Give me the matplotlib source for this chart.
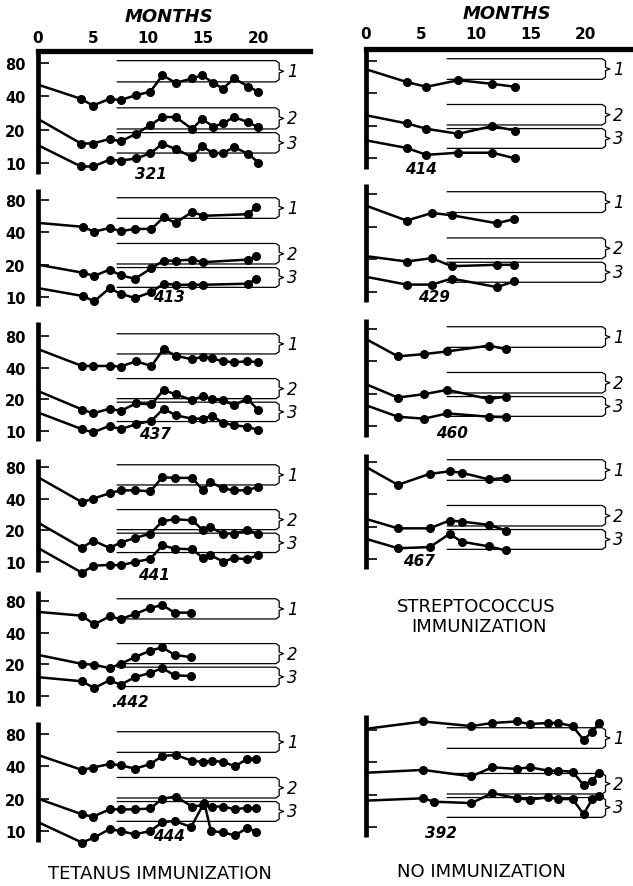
import numpy as np
import matplotlib.pyplot as plt

# months after start, and titres of groups 1, 2, 3 for each animal
m321 = [0, 3.9, 5.0, 6.5, 7.5, 8.9, 10.2, 11.3, 12.5, 14.0, 14.9, 15.9, 16.8, 17.8, 19.1, 20.0]
g1_321 = [51, 38, 33, 38, 37, 41, 44, 62, 53, 58, 62, 53, 47, 58, 49, 44]
g2_321 = [25, 15, 15, 16.5, 15.7, 18.3, 22, 26, 26, 20.3, 25, 21.3, 22.8, 26, 23.3, 21]
g3_321 = [14.5, 9.3, 9.3, 10.7, 10.5, 11, 12.2, 14.9, 13.4, 11.3, 14.1, 12.3, 12.3, 13.9, 12.1, 10.1]

m413 = [0, 4.1, 5.1, 6.5, 7.5, 8.8, 10.3, 11.4, 12.5, 14.0, 15.0, 19.1, 19.8]
g1_413 = [49, 45, 40.5, 44, 41, 43, 43, 55, 49, 62, 57, 59, 69]
g2_413 = [20, 16.8, 15.7, 18, 15.9, 14.8, 18.5, 21.8, 21.8, 22.3, 21.1, 22.3, 24]
g3_413 = [12.1, 10.2, 9.1, 12.1, 10.7, 9.8, 11.1, 13.3, 13, 13, 13, 13.3, 14.8]

m437 = [0, 4.0, 5.0, 6.5, 7.5, 8.9, 10.3, 11.4, 12.5, 14.0, 15.0, 15.8, 16.8, 17.8, 19.0, 20.0]
g1_437 = [60, 41.5, 41.5, 41.5, 41, 46, 41.5, 60, 52, 48, 51, 49, 46, 45, 46, 45]
g2_437 = [24, 16, 14.7, 16.3, 15.5, 18.3, 17.9, 24.5, 22.3, 19.7, 21.5, 20, 19.7, 17.5, 20.3, 15.8]
g3_437 = [15, 10.4, 9.7, 11.2, 10.4, 11.6, 12.5, 16.3, 14.1, 13.1, 13.1, 13.9, 12.0, 11.3, 11.0, 10.2]

m441 = [0, 4.0, 5.0, 6.5, 7.5, 8.8, 10.2, 11.3, 12.4, 14.0, 15.0, 15.6, 16.8, 17.8, 19.0, 20.0]
g1_441 = [64, 37, 40, 45, 48, 48, 47, 64, 63, 63, 48, 58, 50, 48, 48, 52]
g2_441 = [23.7, 13.6, 16, 13.6, 15.3, 16.9, 18.6, 24.4, 25.5, 24.9, 20, 21.5, 18.6, 18.6, 20, 18.6]
g3_441 = [13.6, 7.9, 9.2, 9.4, 9.3, 10, 10.7, 14.4, 13.4, 13.2, 10.9, 11.7, 10.1, 10.9, 10.6, 11.7]

m442 = [0, 4.0, 5.1, 6.5, 7.5, 8.8, 10.2, 11.3, 12.4, 13.9]
g1_442 = [63, 58, 48, 57, 54, 60, 69, 73, 62, 62]
g2_442 = [24.6, 20.2, 19.8, 18.4, 20.2, 23.4, 27, 29, 24.6, 23.4]
g3_442 = [15.1, 13.8, 11.9, 14.1, 12.8, 15.1, 16.6, 18.4, 15.7, 15.5]

m444 = [0, 4.0, 5.0, 6.5, 7.5, 8.8, 10.2, 11.3, 12.5, 14.0, 15.0, 15.8, 16.8, 17.9, 19.0, 19.8]
m444_3 = [0, 4.0, 5.1, 6.5, 7.5, 8.8, 10.2, 11.3, 12.4, 13.9, 15.1, 15.7, 16.8, 17.9, 19.0, 19.8]
g1_444 = [51, 37, 39, 42, 41, 38, 42, 50, 51, 45, 44, 45, 44, 40, 47, 47]
g2_444 = [20, 14.3, 13.6, 15.9, 15.9, 15.9, 16.2, 20, 20.9, 16.9, 17.4, 16.9, 16.9, 15.9, 16.5, 16.2]
g3_444 = [12.1, 7.8, 8.7, 10.4, 10, 9.3, 10, 12.1, 12.4, 10.9, 18.4, 10, 9.7, 9.1, 10.7, 9.8]

m414 = [0, 3.7, 5.5, 8.4, 11.5, 13.6]
g1_414 = [67, 51, 46, 53, 49, 46]
g2_414 = [25, 21, 18.7, 16.8, 19.8, 18]
g3_414 = [14.6, 12.4, 10.7, 11.2, 11.2, 9.9]

m429 = [0, 3.7, 6.0, 7.8, 11.9, 13.5]
g1_429 = [62.5, 45.5, 53.5, 51, 43, 47]
g2_429 = [21.4, 19.1, 20.5, 17.3, 17.8, 17.8]
g3_429 = [13.8, 11.7, 11.7, 13.3, 11.1, 12.5]

m460 = [0, 2.9, 5.3, 7.4, 11.2, 12.7]
g1_460 = [64.5, 44.5, 46.7, 49.5, 56, 52]
g2_460 = [24.5, 18.4, 19.8, 21.7, 17.8, 18.8]
g3_460 = [15.6, 12.2, 11.7, 13.1, 12.2, 12.1]

m467 = [0, 2.9, 5.8, 7.6, 8.7, 11.2, 12.75]
g1_467 = [72, 49, 62, 65.5, 63.6, 55, 57]
g2_467 = [23.6, 19.3, 19.3, 22.8, 22.3, 20.8, 18.4]
g3_467 = [15.4, 12.6, 12.9, 17.1, 14.5, 13.1, 12.0]

m392 = [0, 5.2, 9.6, 11.5, 13.7, 14.9, 16.6, 17.5, 18.8, 19.8, 20.6, 21.2]
m392_3 = [0, 5.2, 6.2, 9.6, 11.5, 13.7, 14.9, 16.6, 17.5, 18.8, 19.8, 20.6, 21.2]
g1_392 = [82, 96, 87, 93, 96, 91, 93, 93, 87, 65, 77, 93]
g2_392 = [32, 34, 29.6, 36, 34.7, 36, 33.4, 33.4, 32.7, 24.6, 27, 32]
g3_392 = [17.6, 18.5, 17.2, 16.7, 20.7, 18.5, 18, 18.9, 18.2, 18.2, 13.2, 18.2, 19.3]

# normal ranges of groups 1, 2, 3 (bracketed bands)
band_low = [54, 20.3, 12.3]
band_high = [84, 31.5, 18.8]
band_names = ['1', '2', '3']

W, H = 633, 887
fig = plt.figure(figsize=(W / 100, H / 100), dpi=100)


def px(x, y):
    return x / W, 1 - y / H


def panel(col, top, y80, y10, bottom, series, label, lab_x, lab_y):
    if col == 0:
        left, width, xmax, x0, x1 = 38, 272, 24.7, 7.2, 21.6
    else:
        left, width, xmax, x0, x1 = 366, 267, 24.3, 7.4, 21.5
    ax = fig.add_axes([left / W, 1 - bottom / H, width / W, (bottom - top) / H])
    ppd = (y10 - y80) / 3
    ax.set_yscale('log')
    ax.set_ylim(10 * 2 ** (-(bottom - y10) / ppd), 80 * 2 ** ((y80 - top) / ppd))
    ax.set_xlim(0, xmax)
    for s in ['right', 'bottom', 'top']:
        ax.spines[s].set_visible(False)
    ax.spines['left'].set_linewidth(3.4)
    ax.spines['left'].set_capstyle('butt')
    labs = ['10', '20', '40', '80'] if col == 0 else [''] * 4
    ax.set_yticks([10, 20, 40, 80], labels=labs)
    ax.minorticks_off()
    ax.tick_params(axis='y', direction='in', length=8, width=1.2, pad=9,
                   labelsize=10.5)
    for t in ax.get_yticklabels():
        t.set_fontweight('bold')
    ax.set_xticks([])

    # bracketed normal ranges
    xv, xt = x1 + 0.3, x1 + 0.7
    for lo, hi, nm in zip(band_low, band_high, band_names):
        lt, lb = np.log2(hi), np.log2(lo)
        lm = (lt + lb) / 2
        bx = [x0, x1, xv, xv, xt, xv, xv, x1, x0]
        by = [lt, lt, lt - 0.07, lm + 0.05, lm, lm - 0.05, lb + 0.07, lb, lb]
        ax.plot(bx, 2 ** np.array(by), color='black', lw=0.9, clip_on=False)
        ax.text(x1 + 1.0, 2 ** lm, nm, fontsize=12, fontstyle='italic',
                va='center', ha='left')

    for m, v in series:
        ax.plot(m, v, '-', color='black', lw=1.8, marker='o', ms=5.5,
                markevery=slice(1, None), clip_on=False)

    ax.annotate(label, (lab_x, lab_y), xycoords=('data', 'axes fraction'),
                ha='center', va='center', fontsize=11, fontweight='bold',
                fontstyle='italic')
    return ax


# tetanus column
a = panel(0, 52, 64, 164, 175,
          [(m321, g1_321), (m321, g2_321), (m321, g3_321)], '321', 10.3, 0.0)
a.spines['top'].set_visible(True)
a.spines['top'].set_linewidth(3.8)
a.xaxis.tick_top()
a.set_xticks([0, 5, 10, 15, 20], labels=['0', '5', '10', '15', '20'])
a.tick_params(axis='x', length=0, pad=4, labelsize=11)
for t in a.get_xticklabels():
    t.set_fontweight('bold')
a.spines['top'].set_bounds(0, 24.7)

panel(0, 190, 201, 298, 307,
      [(m413, g1_413), (m413, g2_413), (m413, g3_413)], '413', 11.9, 0.08)
panel(0, 323, 337, 432, 442,
      [(m437, g1_437), (m437, g2_437), (m437, g3_437)], '437', 10.6, 0.06)
panel(0, 460, 468, 563, 573,
      [(m441, g1_441), (m441, g2_441), (m441, g3_441)], '441', 10.5, -0.02)
panel(0, 592, 602, 697, 707,
      [(m442, g1_442), (m442, g2_442), (m442, g3_442)], '.442', 8.4, 0.035)
panel(0, 723, 735, 832, 843,
      [(m444, g1_444), (m444, g2_444), (m444_3, g3_444)], '444', 11.9, 0.05)

# streptococcus column and control
b = panel(1, 50, 62, 159, 170,
          [(m414, g1_414), (m414, g2_414), (m414, g3_414)], '414', 5.0, 0.0)
b.spines['top'].set_visible(True)
b.spines['top'].set_linewidth(3.8)
b.xaxis.tick_top()
b.set_xticks([0, 5, 10, 15, 20], labels=['0', '5', '10', '15', '20'])
b.tick_params(axis='x', length=0, pad=6, labelsize=11)
for t in b.get_xticklabels():
    t.set_fontweight('bold')

panel(1, 185, 195, 293, 303,
      [(m429, g1_429), (m429, g2_429), (m429, g3_429)], '429', 6.2, 0.05)
panel(1, 320, 330, 427, 438,
      [(m460, g1_460), (m460, g2_460), (m460, g3_460)], '460', 7.8, 0.04)
panel(1, 455, 463, 560, 570,
      [(m467, g1_467), (m467, g2_467), (m467, g3_467)], '467', 4.8, 0.07)
panel(1, 716, 731, 828, 838,
      [(m392, g1_392), (m392, g2_392), (m392_3, g3_392)], '392', 6.8, 0.04)

heading = dict(fontsize=13, fontweight='bold', fontstyle='italic',
               ha='center', va='center')
fig.text(*px(169, 17), 'MONTHS', **heading)
fig.text(*px(507, 14), 'MONTHS', **heading)

caption = dict(fontsize=13, ha='center', va='center')
fig.text(*px(160, 874), 'TETANUS IMMUNIZATION', **caption)
fig.text(*px(481, 872), 'NO IMMUNIZATION', **caption)
fig.text(*px(476, 607), 'STREPTOCOCCUS', **caption)
fig.text(*px(479, 627), 'IMMUNIZATION', **caption)

fig.savefig('out.png', dpi=100)
